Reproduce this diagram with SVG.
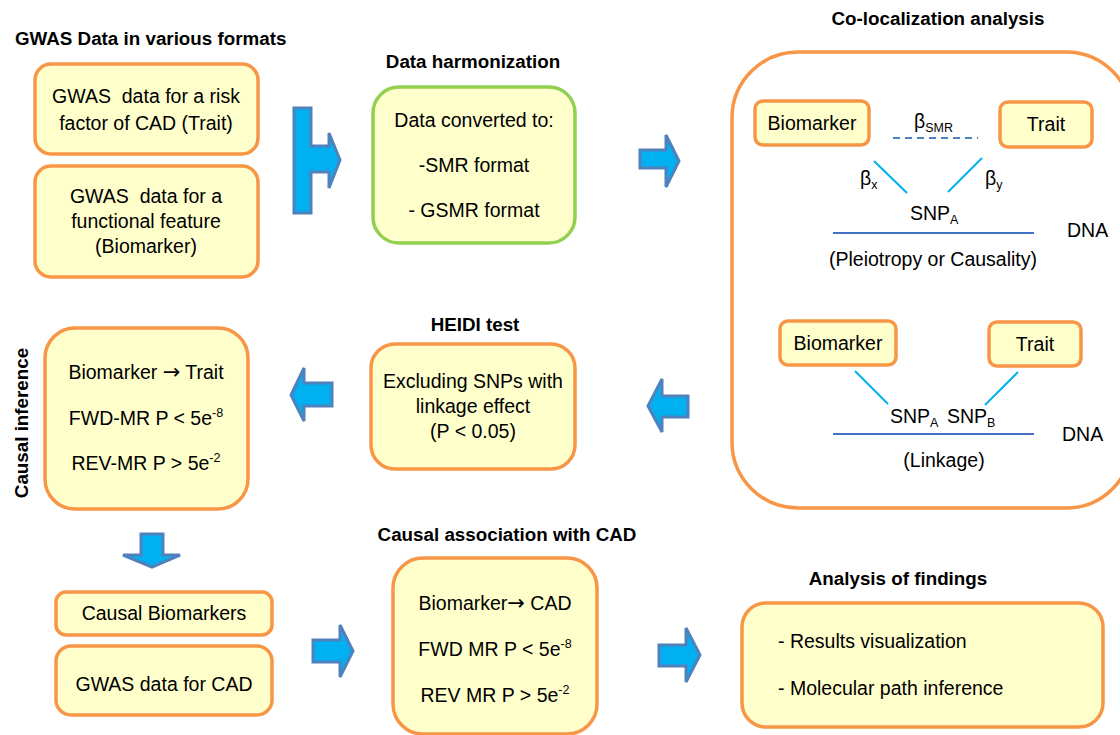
<svg xmlns="http://www.w3.org/2000/svg" width="1120" height="735" viewBox="0 0 1120 735">
<style>
text{font-family:"Liberation Sans",Arial,sans-serif;font-size:19.5px;fill:#000}
.t{font-weight:bold;font-size:18.8px}
.c{text-anchor:middle}
.box{fill:#FFFFCC;stroke:#F79646;stroke-width:3.5}
.gbox{fill:#FFFFCC;stroke:#92D050;stroke-width:3.5}
.big{fill:none;stroke:#F79646;stroke-width:3.5}
.arr{fill:#00B0F0;stroke:#4F81BD;stroke-width:3;stroke-linejoin:miter}
.ln{stroke:#00B0F0;stroke-width:2;fill:none}
.dna{stroke:#4472C4;stroke-width:2;fill:none}
.sub{font-size:12.5px}
.ar{font-family:"DejaVu Sans",sans-serif;font-size:21px}
</style>
<rect width="1120" height="735" fill="#fff"/>

<g id="titles">
<text class="t" x="15" y="45">GWAS Data in various formats</text>
<text class="t c" x="473" y="68">Data harmonization</text>
<text class="t c" x="938" y="25">Co-localization analysis</text>
<text class="t c" x="475" y="331">HEIDI test</text>
<text class="t" x="22" y="423" transform="rotate(-90 22 423)" text-anchor="middle" dy="6">Causal inference</text>
<text class="t c" x="507" y="541">Causal association with CAD</text>
<text class="t c" x="898" y="585">Analysis of findings</text>
</g>

<g id="gwas-trait">
<rect class="box" x="35" y="64" width="223" height="90" rx="16"/>
<text class="c" x="146" y="103">GWAS&#160; data for a risk</text>
<text class="c" x="146" y="130">factor of CAD (Trait)</text>
</g>
<g id="gwas-biomarker">
<rect class="box" x="35" y="166" width="223" height="111" rx="16"/>
<text class="c" x="146" y="203">GWAS&#160; data for a</text>
<text class="c" x="146" y="228">functional feature</text>
<text class="c" x="146" y="253">(Biomarker)</text>
</g>

<g id="harmonization">
<rect class="gbox" x="373" y="87" width="202" height="156" rx="26"/>
<text class="c" x="474" y="127">Data converted to:</text>
<text class="c" x="474" y="172">-SMR format</text>
<text class="c" x="474" y="217">- GSMR format</text>
</g>

<g id="colocalization">
<rect class="big" x="732" y="52" width="400" height="456" rx="66"/>
<g id="coloc-biomarker1">
<rect class="box" x="755" y="101" width="114" height="44" rx="8"/>
<text class="c" x="812" y="130">Biomarker</text>
</g>
<g id="coloc-trait1">
<rect class="box" x="1000" y="102" width="92" height="45" rx="8"/>
<text class="c" x="1046" y="131">Trait</text>
</g>
<text x="914" y="128">β<tspan class="sub" dy="4">SMR</tspan></text>
<line x1="893" y1="138" x2="978" y2="138" stroke="#4F81BD" stroke-width="2" stroke-dasharray="7,5"/>
<line class="ln" x1="874" y1="161" x2="907" y2="193"/>
<line class="ln" x1="982" y1="158" x2="948" y2="192"/>
<text x="860" y="185">β<tspan class="sub" dy="4">x</tspan></text>
<text x="985" y="185">β<tspan class="sub" dy="4">y</tspan></text>
<text x="910" y="220">SNP<tspan class="sub" dy="4">A</tspan></text>
<line class="dna" x1="833" y1="233" x2="1034" y2="233"/>
<text x="1067" y="237" font-size="16.5">DNA</text>
<text class="c" x="933" y="266">(Pleiotropy or Causality)</text>

<g id="coloc-biomarker2">
<rect class="box" x="780" y="321" width="116" height="44" rx="8"/>
<text class="c" x="838" y="350">Biomarker</text>
</g>
<g id="coloc-trait2">
<rect class="box" x="989" y="322" width="92" height="44" rx="8"/>
<text class="c" x="1035" y="351">Trait</text>
</g>
<line class="ln" x1="855" y1="371" x2="888" y2="404"/>
<line class="ln" x1="1018" y1="372" x2="985" y2="405"/>
<text x="890" y="423">SNP<tspan class="sub" dy="4">A</tspan></text>
<text x="947" y="423">SNP<tspan class="sub" dy="4">B</tspan></text>
<line class="dna" x1="833" y1="434" x2="1034" y2="434"/>
<text x="1062" y="441" font-size="16.5">DNA</text>
<text class="c" x="944" y="467">(Linkage)</text>
</g>

<g id="heidi">
<rect class="box" x="371" y="344" width="204" height="125" rx="24"/>
<text class="c" x="473" y="388">Excluding SNPs with</text>
<text class="c" x="473" y="413">linkage effect</text>
<text class="c" x="473" y="438">(P &lt; 0.05)</text>
</g>

<g id="causal-inference">
<rect class="box" x="45" y="328" width="203" height="181" rx="30"/>
<text class="c" x="146" y="379">Biomarker <tspan class="ar">→</tspan> Trait</text>
<text class="c" x="146" y="425">FWD-MR P &lt; 5e<tspan class="sub" dy="-8">-8</tspan></text>
<text class="c" x="146" y="470">REV-MR P &gt; 5e<tspan class="sub" dy="-8">-2</tspan></text>
</g>

<g id="causal-biomarkers">
<rect class="box" x="56" y="592" width="216" height="43" rx="10"/>
<text class="c" x="164" y="620">Causal Biomarkers</text>
</g>
<g id="gwas-cad">
<rect class="box" x="56" y="646" width="216" height="69" rx="15"/>
<text class="c" x="164" y="691">GWAS data for CAD</text>
</g>

<g id="causal-association">
<rect class="box" x="393" y="558" width="204" height="176" rx="30"/>
<text class="c" x="495" y="610">Biomarker<tspan class="ar">→</tspan> CAD</text>
<text class="c" x="495" y="656">FWD MR P &lt; 5e<tspan class="sub" dy="-8">-8</tspan></text>
<text class="c" x="495" y="702">REV MR P &gt; 5e<tspan class="sub" dy="-8">-2</tspan></text>
</g>

<g id="analysis">
<rect class="box" x="742" y="603" width="361" height="124" rx="24"/>
<text x="778" y="648">- Results visualization</text>
<text x="778" y="695">- Molecular path inference</text>
</g>

<g id="connectors">
<polygon class="arr" points="294,108 311,108 311,146 329,146 329,133 340,160 329,188 329,172 311,172 311,213 294,213"/>
<polygon class="arr" points="640,150 666,150 666,135 679,161 666,187 666,168 640,168"/>
<polygon class="arr" points="688,396 662,396 662,379 648,406 662,432 662,417 688,417"/>
<polygon class="arr" points="332,383 304,383 304,368 291,395 304,421 304,406 332,406"/>
<polygon class="arr" points="141,534 163,534 163,555 180,555 152,567 123,555 141,555"/>
<polygon class="arr" points="313,640 340,640 340,625 353,651 340,677 340,662 313,662"/>
<polygon class="arr" points="659,645 686,645 686,628 700,655 686,682 686,666 659,666"/>
</g>
</svg>
